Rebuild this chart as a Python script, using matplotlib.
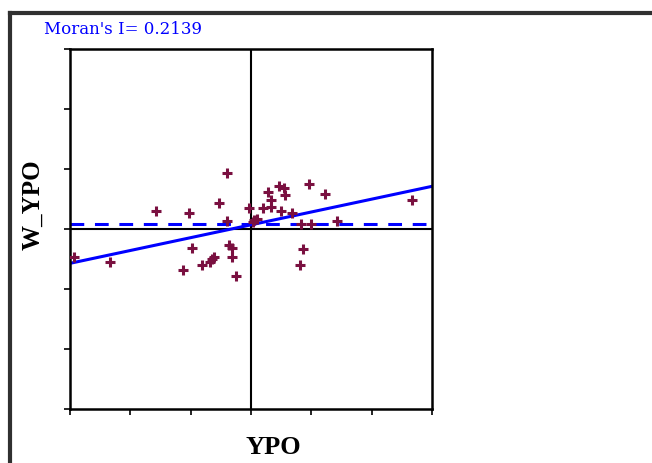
import matplotlib
matplotlib.use("Agg")
import matplotlib.pyplot as plt
from matplotlib.lines import Line2D

# standardized YPO and its spatial lag
ypo = [-2.93, -2.33, -1.57, -1.03, -0.53, -0.39, -0.39, -0.04, 0.05, 0.03,
       0.10, 0.20, 0.28, 0.33, 0.33, 0.46, 0.55, 0.56, 0.50, 0.68,
       0.96, 1.23, 0.83, 1.00, 1.42, 2.67, -0.98, -1.12, -0.81, -0.68,
       -0.65, -0.62, -0.36, -0.31, -0.31, -0.25, 0.86, 0.82]
w_ypo = [-0.46, -0.55, 0.30, 0.26, 0.44, 0.93, 0.13, 0.35, 0.15, 0.12,
         0.16, 0.35, 0.61, 0.48, 0.36, 0.72, 0.68, 0.57, 0.30, 0.26,
         0.75, 0.58, 0.08, 0.08, 0.13, 0.48, -0.32, -0.68, -0.60, -0.55,
         -0.50, -0.46, -0.27, -0.32, -0.47, -0.78, -0.33, -0.60]
morans_i = 0.2139
intercept = 0.07
dashed_level = 0.09
lim = 3

fig = plt.figure(figsize=(6.52, 4.63), dpi=100)
ax = fig.add_axes([0.1074, 0.1166, 0.5552, 0.7775])
ax.set_xlim(-lim, lim)
ax.set_ylim(-lim, lim)

ax.axhline(0, color='black', lw=1.5, zorder=1)
ax.axvline(0, color='black', lw=1.5, zorder=1)
ax.axhline(dashed_level, color='#0000ff', lw=2.2, ls=(0, (4.5, 3.5)), zorder=2)
xs = [-lim, lim]
ax.plot(xs, [intercept + morans_i * v for v in xs], color='#0000ff', lw=2.2, zorder=2)

ax.scatter(ypo, w_ypo, marker='+', s=45, linewidths=2.2, color='#7a1040', zorder=3)

ax.set_xticks(range(-lim, lim + 1))
ax.set_yticks(range(-lim, lim + 1))
ax.set_xticklabels([])
ax.set_yticklabels([])
ax.tick_params(direction='out', length=4, width=1.2, color='black')
for s in ax.spines.values():
    s.set_linewidth(1.8)

fig.text(44 / 652, 1 - 34 / 463, "Moran's I= %.4f" % morans_i, color='#0000ff',
         fontsize=12, family='DejaVu Serif', ha='left', va='baseline')
fig.text(273 / 652, 1 - 448 / 463, "YPO", fontsize=19, fontweight='bold',
         family='Liberation Serif', ha='center', va='center')
fig.text(33 / 652, 1 - 205 / 463, "W_YPO", fontsize=18, fontweight='bold',
         family='Liberation Serif', ha='center', va='center', rotation=90)

# window frame on left and top
top = 1 - 12.5 / 463
fig.add_artist(Line2D([9.5 / 652, 9.5 / 652], [0, top], color='#303030', lw=3,
                      solid_capstyle='projecting', transform=fig.transFigure))
fig.add_artist(Line2D([9.5 / 652, 1], [top, top], color='#303030', lw=3,
                      solid_capstyle='projecting', transform=fig.transFigure))

fig.savefig("out.png", dpi=100)
